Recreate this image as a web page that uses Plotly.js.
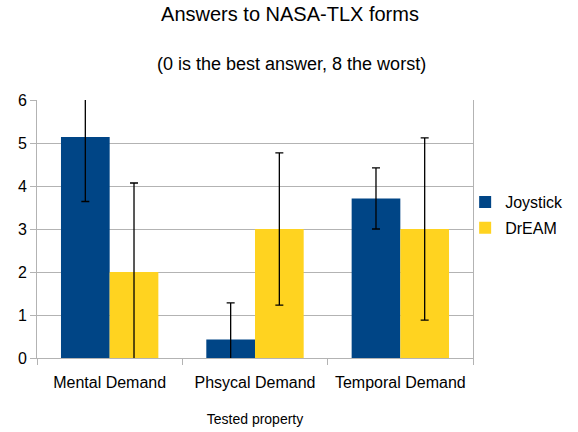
<!DOCTYPE html>
<html>
<head>
<meta charset="utf-8">
<script src="https://cdn.plot.ly/plotly-3.0.1.min.js"></script>
<style>
html, body { margin: 0; padding: 0; background: #ffffff; }
#chart { width: 578px; height: 432px; }
</style>
</head>
<body>
<div id="chart"></div>
<script>
// Data
const categories = ["Mental Demand", "Phsycal Demand", "Temporal Demand"];
const joystickValues = [5.14, 0.43, 3.71];
const joystickErrors = [1.5, 0.85, 0.71];
const dreamValues = [2, 3, 3];
const dreamErrors = [2.07, 1.77, 2.12];
const yTickValues = [0, 1, 2, 3, 4, 5, 6];

const FONT = "Liberation Sans, Arial, sans-serif";
const GRID = "#b3b3b3";

const traces = [
  {
    type: "bar",
    name: "Joystick",
    x: categories,
    y: joystickValues,
    marker: { color: "#004586" },
    error_y: { type: "data", array: joystickErrors, visible: true, color: "#000000", thickness: 1.3, width: 4 },
    legendgroup: "a"
  },
  {
    type: "bar",
    name: "DrEAM",
    x: categories,
    y: dreamValues,
    marker: { color: "#ffd320" },
    error_y: { type: "data", array: dreamErrors, visible: true, color: "#000000", thickness: 1.3, width: 4 },
    legendgroup: "b"
  }
];

const layout = {
  width: 578,
  height: 432,
  margin: { l: 37, r: 105, t: 100, b: 74, pad: 0, autoexpand: false },
  paper_bgcolor: "#ffffff",
  plot_bgcolor: "#ffffff",
  font: { family: FONT, color: "#000000", size: 16 },
  barmode: "group",
  bargap: 0.33,
  bargroupgap: 0,
  title: {
    text: "Answers to NASA-TLX forms",
    font: { family: FONT, size: 20, color: "#000000" },
    xref: "container",
    x: 290 / 578,
    xanchor: "center",
    yref: "container",
    y: 1 - 14 / 432,
    yanchor: "middle"
  },
  annotations: [
    {
      text: "(0 is the best answer, 8 the worst)",
      xref: "paper", yref: "paper",
      x: (291.5 - 37) / 436, y: 1 + (100 - 64) / 258,
      xanchor: "center", yanchor: "middle",
      showarrow: false,
      font: { family: FONT, size: 18, color: "#000000" }
    }
  ],
  xaxis: {
    type: "category",
    automargin: false,
    showline: true,
    linecolor: GRID,
    linewidth: 1,
    ticks: "outside",
    tickson: "boundaries",
    ticklen: 6,
    tickcolor: GRID,
    tickangle: 0,
    showgrid: false,
    tickfont: { family: FONT, size: 16, color: "#000000" },
    ticklabelstandoff: 10,
    title: {
      text: "Tested property",
      font: { family: FONT, size: 14, color: "#000000" },
      standoff: 23
    }
  },
  yaxis: {
    automargin: false,
    range: [0, 6],
    tickvals: yTickValues,
    ticktext: yTickValues.map(String),
    showline: true,
    mirror: true,
    linecolor: GRID,
    linewidth: 1,
    ticks: "outside",
    ticklen: 6,
    tickcolor: GRID,
    showgrid: true,
    gridcolor: GRID,
    gridwidth: 1,
    zeroline: false,
    tickfont: { family: FONT, size: 16, color: "#000000" }
  },
  showlegend: true,
  legend: {
    x: 0.982,
    xanchor: "left",
    y: 0.554,
    yanchor: "middle",
    font: { family: FONT, size: 16, color: "#000000" },
    itemwidth: 30,
    traceorder: "grouped",
    tracegroupgap: 2,
    bgcolor: "rgba(0,0,0,0)"
  }
};

Plotly.newPlot("chart", traces, layout, { displayModeBar: false, staticPlot: true });
</script>
</body>
</html>
